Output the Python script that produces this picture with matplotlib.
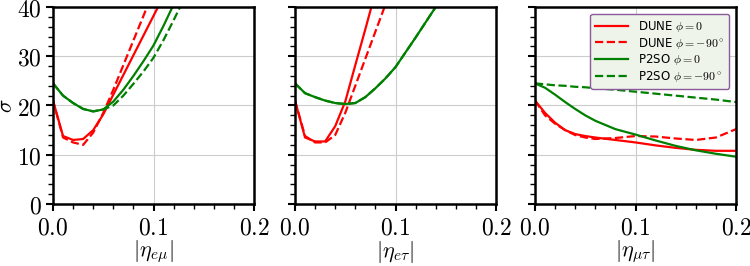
import numpy as np
import matplotlib.pyplot as plt

plt.rcParams['mathtext.fontset'] = 'cm'

# data
x_emu = [0.0, 0.01, 0.02, 0.03, 0.04, 0.05, 0.06, 0.07, 0.08, 0.09, 0.10, 0.11, 0.12, 0.13]
dune0_emu = [21.0, 13.8, 13.0, 13.2, 15.0, 18.2, 22.2, 26.2, 30.2, 34.2, 38.2, 42.2, 46.0, 50.0]
dune90_emu = [21.0, 13.5, 12.5, 12.0, 14.5, 18.5, 23.2, 28.2, 33.2, 38.2, 43.2, 48.0, 53.0, 58.0]
p2so0_emu = [24.5, 22.0, 20.5, 19.3, 18.8, 19.2, 20.8, 23.2, 26.0, 29.0, 32.2, 36.2, 40.5, 45.0]
p2so90_emu = [24.5, 22.0, 20.5, 19.3, 18.8, 19.2, 20.0, 22.0, 24.4, 26.9, 29.7, 33.3, 37.3, 41.5]

x_etau = [0.0, 0.01, 0.02, 0.03, 0.04, 0.05, 0.06, 0.07, 0.08, 0.09, 0.10, 0.11, 0.12, 0.13, 0.14, 0.15]
dune0_etau = [21.0, 13.5, 12.7, 12.7, 15.8, 20.8, 28.2, 35.5, 43.0, 50.5, 58.0, 65.0, 72.0, 79.0, 86.0, 93.0]
dune90_etau = [21.0, 13.8, 12.5, 12.5, 14.0, 18.5, 24.0, 29.5, 35.0, 40.5, 46.0, 51.5, 57.0, 62.5, 68.0, 73.5]
p2so0_etau = [24.5, 22.5, 21.7, 21.0, 20.5, 20.3, 20.5, 21.7, 23.5, 25.5, 27.8, 30.8, 33.8, 36.9, 40.0, 43.2]
p2so90_etau = p2so0_etau

x_mutau = [0.0, 0.01, 0.02, 0.03, 0.04, 0.05, 0.06, 0.08, 0.10, 0.12, 0.14, 0.16, 0.18, 0.20]
dune0_mutau = [21.0, 18.5, 16.5, 15.0, 14.2, 13.8, 13.5, 13.0, 12.5, 11.9, 11.4, 11.0, 10.8, 10.8]
dune90_mutau = [21.0, 18.0, 16.3, 15.0, 14.0, 13.5, 13.2, 13.4, 13.8, 13.7, 13.3, 13.0, 13.5, 15.2]
p2so0_mutau = [24.5, 23.6, 22.2, 20.7, 19.3, 18.0, 16.9, 15.2, 14.1, 12.9, 11.8, 10.9, 10.2, 9.6]
p2so90_mutau = [24.5, 24.3, 24.1, 24.0, 23.8, 23.7, 23.5, 23.2, 22.8, 22.4, 22.0, 21.6, 21.2, 20.7]

xlabels = [r'$|\eta_{e\mu}|$', r'$|\eta_{e\tau}|$', r'$|\eta_{\mu\tau}|$']
panels = [
    (x_emu, dune0_emu, dune90_emu, p2so0_emu, p2so90_emu),
    (x_etau, dune0_etau, dune90_etau, p2so0_etau, p2so90_etau),
    (x_mutau, dune0_mutau, dune90_mutau, p2so0_mutau, p2so90_mutau),
]

fig = plt.figure(figsize=(7.5, 2.66), dpi=100)
lefts = [53 / 750, 295 / 750, 535 / 750]

for i, (x, d0, d90, p0, p90) in enumerate(panels):
    ax = fig.add_axes([lefts[i], 62 / 266, 201 / 750, 197 / 266])
    ax.plot(x, d0, color='red', lw=1.6, label=r'DUNE $\phi=0$')
    ax.plot(x, d90, color='red', lw=1.6, ls='--', label=r'DUNE $\phi=-90^\circ$')
    ax.plot(x, p0, color='green', lw=1.6, label=r'P2SO $\phi=0$')
    ax.plot(x, p90, color='green', lw=1.6, ls='--', label=r'P2SO $\phi=-90^\circ$')

    ax.set_xlim(0, 0.2)
    ax.set_ylim(0, 40)
    ax.set_xticks([0, 0.1, 0.2])
    ax.set_xticklabels(['$0.0$', '$0.1$', '$0.2$'])
    ax.set_xticks(np.arange(0, 0.201, 0.02), minor=True)
    ax.set_yticks([0, 10, 20, 30, 40])
    ax.set_yticks(np.arange(0, 40.1, 2), minor=True)
    if i == 0:
        ax.set_yticklabels(['$0$', '$10$', '$20$', '$30$', '$40$'])
        ax.set_ylabel(r'$\sigma$', fontsize=16, labelpad=1)
    else:
        ax.set_yticklabels([])
    ax.set_xlabel(xlabels[i], fontsize=16, labelpad=0)
    ax.tick_params(which='major', length=5, width=1.5, labelsize=17, pad=3)
    ax.tick_params(which='minor', length=3.5, width=1.0)
    ax.grid(True, which='major', color='#cccccc', lw=0.8)
    for s in ax.spines.values():
        s.set_linewidth(1.8)

    if i == 2:
        leg = ax.legend(loc='upper right', fontsize=8.5, fancybox=True,
                        facecolor='#eef4ea', edgecolor='#8a5a9a',
                        framealpha=1, handlelength=2.8, labelspacing=0.15,
                        borderaxespad=0.6)
        leg.get_frame().set_linewidth(1.0)

fig.savefig('out.png', dpi=100)
